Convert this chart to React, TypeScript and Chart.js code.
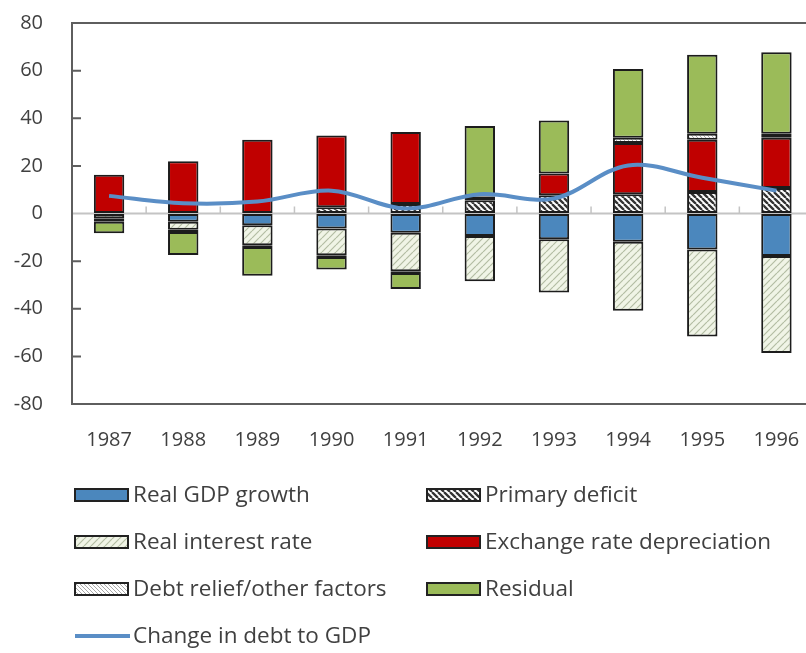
import React, { useEffect, useRef } from "react";
import { Chart, registerables } from "chart.js";

Chart.register(...registerables);

const years = ["1987", "1988", "1989", "1990", "1991", "1992", "1993", "1994", "1995", "1996"];
const realGdpGrowth = [0, -3.5, -4.9, -6.3, -8.1, -9.4, -10.8, -11.9, -15.1, -17.9];
const primaryDeficit = [0, 0, 0, 2.6, 4.0, 5.6, 7.7, 8.1, 9.0, 10.7];
const realInterestRate = [-2.0, -3.3, -8.4, -11.2, -16.1, -19.0, -22.4, -28.9, -36.6, -40.7];
const exchangeRateDep = [16.3, 21.9, 31.0, 30.2, 30.2, 1.5, 9.1, 21.5, 22.0, 21.1];
const debtReliefOther = [-1.5, -1.0, -0.8, -0.8, -0.8, 0, 0, 2.2, 2.5, 1.7];
const residual = [-4.8, -9.6, -12.0, -5.2, -6.7, 29.6, 22.3, 28.9, 33.2, 34.2];
const changeInDebt = [7.4, 4.3, 5.0, 9.6, 2.1, 8.1, 6.3, 20.2, 15.0, 9.6];
const yTicks = [-80, -60, -40, -20, 0, 20, 40, 60, 80];

const FONT = "'Open Sans', 'DejaVu Sans', sans-serif";
const TEXT = "#404040";
const AXIS = "#5e5e5e";

function makePattern(bg: string, fg: string, size: number, lw: number, dir: string) {
  const c = document.createElement("canvas");
  c.width = size;
  c.height = size;
  const ctx = c.getContext("2d")!;
  ctx.fillStyle = bg;
  ctx.fillRect(0, 0, size, size);
  ctx.strokeStyle = fg;
  ctx.lineWidth = lw;
  ctx.beginPath();
  for (let k = -1; k <= 1; k++) {
    if (dir === "\\") {
      ctx.moveTo(k * size, 0);
      ctx.lineTo(k * size + size, size);
    } else {
      ctx.moveTo(k * size, size);
      ctx.lineTo(k * size + size, 0);
    }
  }
  ctx.stroke();
  return ctx.createPattern(c, "repeat")!;
}

const framePlugin = {
  id: "frame",
  beforeDatasetsDraw(chart: any) {
    const { ctx, chartArea, scales } = chart;
    const y = scales.y;
    const x = scales.x;
    const zero = y.getPixelForValue(0);
    ctx.save();
    ctx.strokeStyle = "#c4c4c4";
    ctx.lineWidth = 2;
    ctx.beginPath();
    ctx.moveTo(chartArea.left, zero);
    ctx.lineTo(chartArea.right, zero);
    ctx.stroke();
    ctx.lineWidth = 1.5;
    ctx.beginPath();
    for (let i = 1; i < years.length; i++) {
      const px = (x.getPixelForValue(i - 1) + x.getPixelForValue(i)) / 2;
      ctx.moveTo(px, zero);
      ctx.lineTo(px, zero - 7);
    }
    ctx.stroke();
    ctx.strokeStyle = AXIS;
    ctx.lineWidth = 2;
    ctx.beginPath();
    yTicks.forEach((v) => {
      if (v === 0 || v === 80 || v === -80) return;
      const py = y.getPixelForValue(v);
      ctx.moveTo(chartArea.left, py);
      ctx.lineTo(chartArea.left + 9, py);
    });
    ctx.stroke();
    ctx.strokeRect(chartArea.left, chartArea.top, chartArea.right - chartArea.left, chartArea.bottom - chartArea.top);
    ctx.restore();
  },
};

const legendPlugin = {
  id: "gridLegend",
  afterDraw(chart: any) {
    const { ctx } = chart;
    const ds = chart.data.datasets;
    const colX = [75, 427];
    const rowY = [495, 542, 589, 636];
    ctx.save();
    ctx.font = `22.5px ${FONT}`;
    ctx.textBaseline = "middle";
    ctx.textAlign = "left";
    ds.forEach((d: any, i: number) => {
      const x0 = colX[i % 2];
      const y0 = rowY[Math.floor(i / 2)];
      if (d.type === "line") {
        ctx.strokeStyle = d.borderColor;
        ctx.lineWidth = 4;
        ctx.beginPath();
        ctx.moveTo(x0, y0);
        ctx.lineTo(x0 + 55, y0);
        ctx.stroke();
      } else {
        ctx.fillStyle = d.backgroundColor;
        ctx.fillRect(x0, y0 - 6, 53, 12);
        ctx.strokeStyle = "#222222";
        ctx.lineWidth = 2;
        ctx.strokeRect(x0, y0 - 6, 53, 12);
      }
      ctx.fillStyle = TEXT;
      ctx.fillText(d.label, x0 + 58, y0 + 1);
    });
    ctx.restore();
  },
};

export default function App() {
  const ref = useRef<HTMLCanvasElement>(null);

  useEffect(() => {
    const primaryPat = makePattern("#ffffff", "#333333", 6, 2.3, "\\");
    const interestPat = makePattern("#f0f4e6", "#b3bda3", 7, 1.2, "/");
    const reliefPat = makePattern("#ffffff", "#a8a8a8", 4, 1, "\\");
    const bar = (label: string, data: number[], bg: any) => ({
      type: "bar" as const,
      label,
      data,
      backgroundColor: bg,
      borderColor: "#1c1c1c",
      borderWidth: 2,
      borderSkipped: false,
      order: 1,
      categoryPercentage: 1,
      barPercentage: 0.41,
    });
    const chart = new Chart(ref.current!, {
      type: "bar",
      data: {
        labels: years,
        datasets: [
          bar("Real GDP growth", realGdpGrowth, "#4b87bd"),
          bar("Primary deficit", primaryDeficit, primaryPat),
          bar("Real interest rate", realInterestRate, interestPat),
          bar("Exchange rate depreciation", exchangeRateDep, "#c00000"),
          bar("Debt relief/other factors", debtReliefOther, reliefPat),
          bar("Residual", residual, "#9bbb59"),
          {
            type: "line" as const,
            label: "Change in debt to GDP",
            data: changeInDebt,
            borderColor: "#5a8ec6",
            backgroundColor: "#5a8ec6",
            borderWidth: 4,
            pointRadius: 0,
            tension: 0.35,
            order: 0,
            stack: "line",
            borderJoinStyle: "round",
          } as any,
        ],
      },
      options: {
        responsive: false,
        animation: false,
        devicePixelRatio: 1,
        layout: { padding: { left: 0, right: 16.5, top: 23, bottom: 199 } },
        plugins: { legend: { display: false }, tooltip: { enabled: false } },
        scales: {
          x: {
            stacked: true,
            offset: true,
            grid: { display: false, drawTicks: false },
            border: { display: false },
            ticks: { color: TEXT, font: { family: FONT, size: 20 }, padding: 24, maxRotation: 0, autoSkip: false },
            afterFit: (s: any) => {
              s.height = 50;
            },
          },
          y: {
            stacked: true,
            min: -80,
            max: 80,
            grid: {
              display: true,
              drawOnChartArea: false,
              drawTicks: true,
              tickLength: 27,
              color: "rgba(0,0,0,0)",
              tickColor: "rgba(0,0,0,0)",
            },
            border: { display: false },
            ticks: { stepSize: 20, color: TEXT, font: { family: FONT, size: 20 }, padding: 2 },
            afterFit: (s: any) => {
              s.width = 72;
            },
          },
        },
      },
      plugins: [framePlugin, legendPlugin],
    } as any);
    return () => chart.destroy();
  }, []);

  return (
    <div style={{ position: "fixed", left: 0, top: 0, width: 806, height: 653, overflow: "hidden", background: "#fff" }}>
      <canvas ref={ref} width={830} height={653} style={{ display: "block", width: 830, height: 653 }} />
    </div>
  );
}
